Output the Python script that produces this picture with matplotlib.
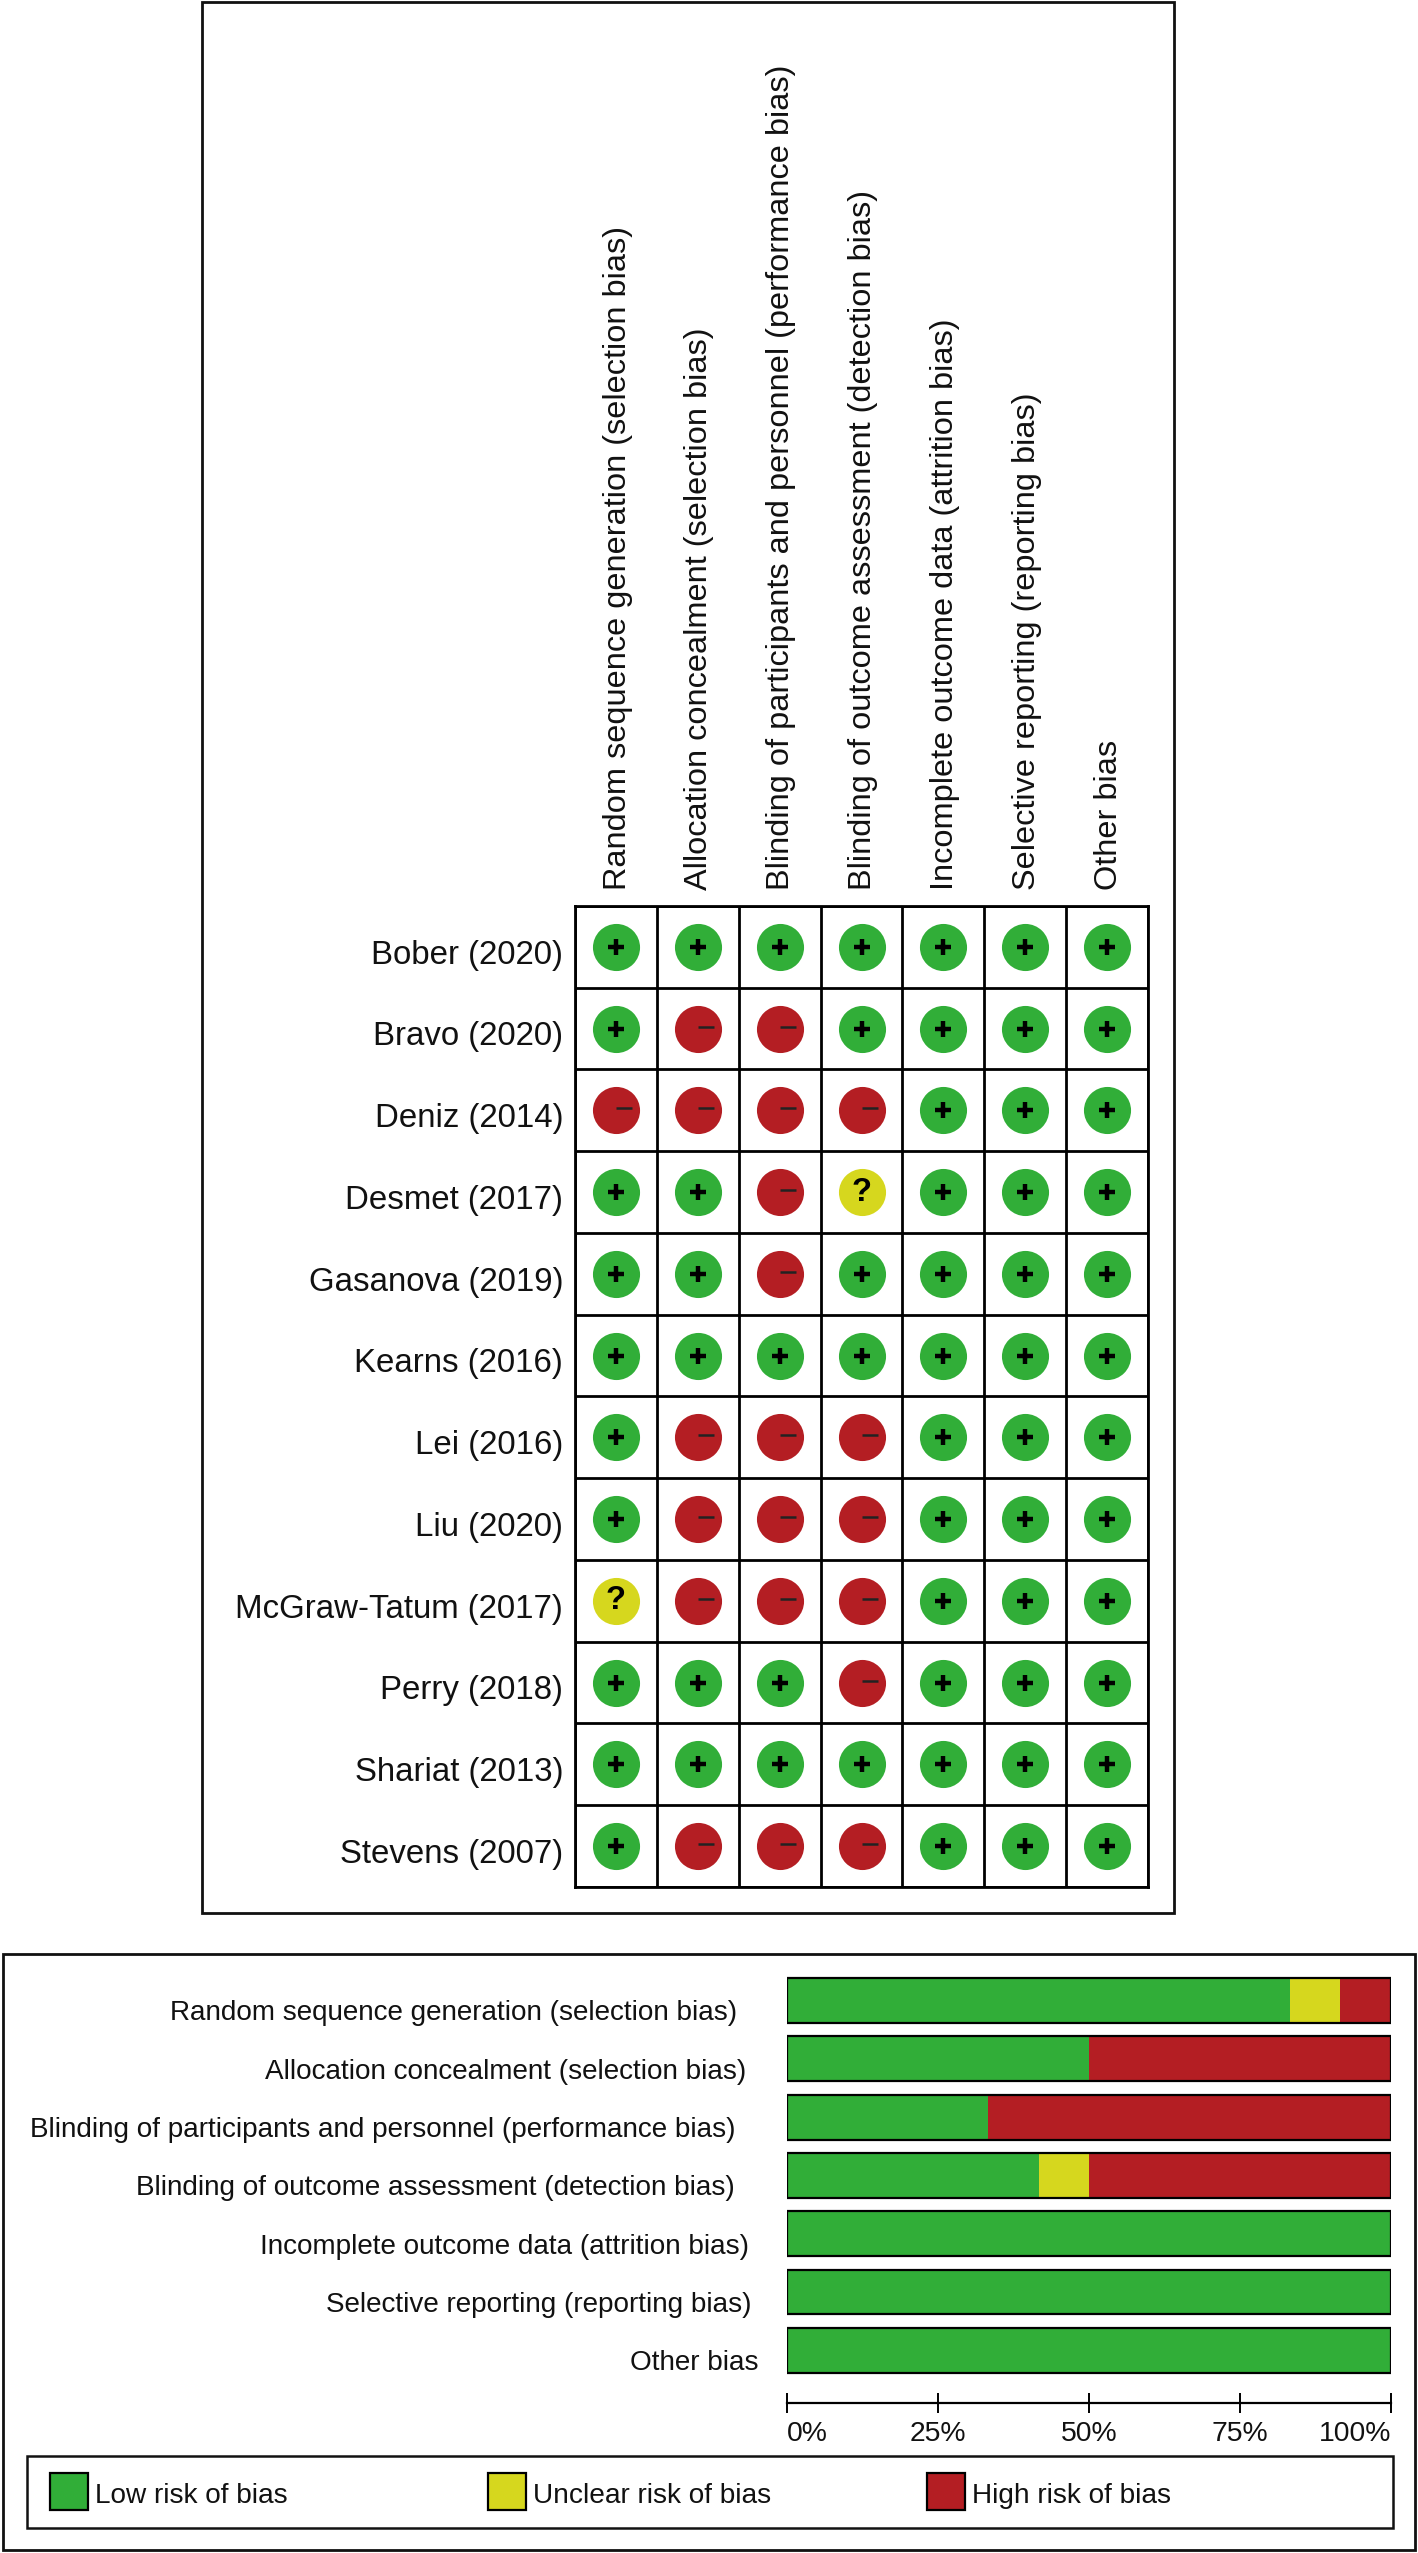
import matplotlib
matplotlib.use("Agg")
import matplotlib.pyplot as plt
from matplotlib.patches import Rectangle

plt.rcParams['font.family'] = ['Liberation Sans', 'DejaVu Sans']

W, H = 1418, 2553

studies = ["Bober (2020)", "Bravo (2020)", "Deniz (2014)", "Desmet (2017)", "Gasanova (2019)",
           "Kearns (2016)", "Lei (2016)", "Liu (2020)", "McGraw-Tatum (2017)", "Perry (2018)",
           "Shariat (2013)", "Stevens (2007)"]
domains = ["Random sequence generation (selection bias)",
           "Allocation concealment (selection bias)",
           "Blinding of participants and personnel (performance bias)",
           "Blinding of outcome assessment (detection bias)",
           "Incomplete outcome data (attrition bias)",
           "Selective reporting (reporting bias)",
           "Other bias"]
# one string per study, one letter per domain
judgements = ["+++++++",
              "+--++++",
              "----+++",
              "++-?+++",
              "++-++++",
              "+++++++",
              "+---+++",
              "+---+++",
              "?---+++",
              "+++-+++",
              "+++++++",
              "+---+++"]
low = [83.3, 50, 33.3, 41.7, 100, 100, 100]
unclear = [8.3, 0, 0, 8.3, 0, 0, 0]
high = [8.4, 50, 66.7, 50, 0, 0, 0]
pct_ticks = [0, 25, 50, 75, 100]
pct_labels = ["0%", "25%", "50%", "75%", "100%"]
legend_names = ["Low risk of bias", "Unclear risk of bias", "High risk of bias"]

GREEN = "#31AE38"
YELLOW = "#D6D71E"
RED = "#B41E23"
colors = {"+": GREEN, "?": YELLOW, "-": RED}


def px_axes(x0, y0, x1, y1):
    return fig.add_axes([x0 / W, 1 - y1 / H, (x1 - x0) / W, (y1 - y0) / H])


fig = plt.figure(figsize=(W / 100, H / 100), dpi=100, facecolor="white")

# overlay in pixels for the frames, legend and lower labels
bg = px_axes(0, 0, W, H)
bg.set_xlim(0, W)
bg.set_ylim(H, 0)
bg.axis("off")
bg.add_patch(Rectangle((202, 2), 972, 1911, fill=False, ec="#111111", lw=2))
bg.add_patch(Rectangle((3, 1954), 1412, 596, fill=False, ec="#111111", lw=2))

# risk of bias summary
ax = px_axes(575, 906, 1148, 1887)
ax.set_xlim(0, 7)
ax.set_ylim(12, 0)
ax.set_xticks(range(8))
ax.set_yticks(range(13))
ax.grid(color="black", lw=2)
ax.set_axisbelow(True)
ax.tick_params(length=0, labelbottom=False, labelleft=False)
for s in ax.spines.values():
    s.set_linewidth(2)
for r, row in enumerate(judgements):
    ax.text(-0.145, r + 0.6, studies[r], ha="right", va="center", fontsize=23.8, color="#111111")
    for c, j in enumerate(row):
        ax.scatter(c + 0.5, r + 0.5, s=1150, color=colors[j], linewidths=0, zorder=3)
        if j == "+":
            ax.scatter(c + 0.5, r + 0.5, s=135, marker="+", color="black", linewidths=3.2, zorder=4)
        elif j == "-":
            ax.scatter(c + 0.6, r + 0.475, s=120, marker="_", color="#222222", linewidths=1.8, zorder=4)
        else:
            ax.text(c + 0.5, r + 0.5, "?", ha="center", va="center", fontsize=23.5,
                    fontweight="bold", color="black", zorder=4)
for c, name in enumerate(domains):
    ax.text(c + 0.52, -0.2, name, rotation=90, ha="center", va="bottom", fontsize=23.4,
            color="#111111", clip_on=False)

# risk of bias graph
row_y0, row_step = 2000.5, 58.3
bx = px_axes(787, 1972, 1391, 2403)
bx.set_xlim(0, 100)
bx.set_ylim((2403 - row_y0) / row_step, (1972 - row_y0) / row_step)
rows = range(len(domains))
lows = [a + b for a, b in zip(low, unclear)]
bx.barh(rows, low, height=0.77, color=GREEN, lw=0)
bx.barh(rows, unclear, left=low, height=0.77, color=YELLOW, lw=0)
bx.barh(rows, high, left=lows, height=0.77, color=RED, lw=0)
bx.barh(rows, [100] * 7, height=0.77, fill=False, edgecolor="black", lw=1.6)
for name in ["top", "left", "right"]:
    bx.spines[name].set_visible(False)
bx.spines["bottom"].set_linewidth(1.6)
bx.set_yticks([])
bx.set_xticks(pct_ticks)
bx.set_xticklabels(pct_labels, fontsize=20.4, color="#111111")
bx.tick_params(axis="x", direction="inout", length=14, width=1.4, pad=6)
labs = bx.get_xticklabels()
labs[0].set_ha("left")
labs[-1].set_ha("right")

label_right = [737, 746, 735, 735, 749, 752, 758]
for i, name in enumerate(domains):
    bg.text(label_right[i], row_y0 + 13 + i * row_step, name, ha="right", va="center",
            fontsize=20.1, color="#111111")

# legend
bg.add_patch(Rectangle((27, 2456), 1366, 72, fill=False, ec="#111111", lw=1.8))
swatch_x = [50, 488, 927]
for x, name, col in zip(swatch_x, legend_names, [GREEN, YELLOW, RED]):
    bg.add_patch(Rectangle((x, 2473), 38, 37, fc=col, ec="black", lw=1.6))
    bg.text(x + 45, 2496, name, ha="left", va="center", fontsize=20.2, color="#111111")

fig.savefig("out.png", dpi=100)
